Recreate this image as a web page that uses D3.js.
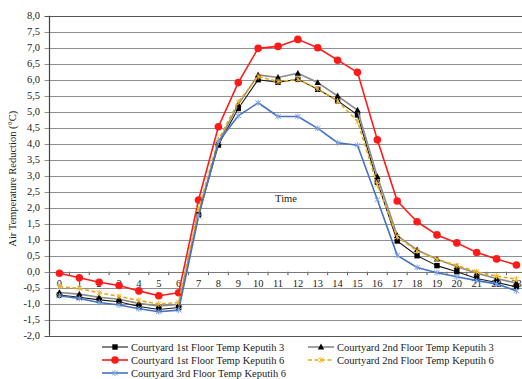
<!DOCTYPE html>
<html>
<head>
<meta charset="utf-8">
<script src="https://cdn.jsdelivr.net/npm/d3@7"></script>
<style>
  html, body { margin: 0; padding: 0; background: #fff; }
  svg { display: block; font-family: 'Liberation Serif', 'Times New Roman', Times, 'DejaVu Serif', serif; }
  svg text { font-family: 'Liberation Serif', 'Times New Roman', Times, 'DejaVu Serif', serif; fill: #222; }
</style>
</head>
<body>
<svg id="chart" width="522" height="379"></svg>
<script>
// Hour of day (category axis)
const hours = d3.range(0, 24).map(String);

// Air temperature reduction (°C) per courtyard / floor
const keputih3Floor1 = [-0.73, -0.80, -0.88, -0.94, -1.09, -1.18, -1.12, 1.78, 3.96, 5.10, 6.00, 5.92, 6.01, 5.70, 5.34, 4.90, 2.80, 0.96, 0.50, 0.19, 0.00, -0.21, -0.34, -0.47];
const keputih3Floor2 = [-0.65, -0.70, -0.80, -0.86, -0.99, -1.07, -1.02, 1.82, 4.03, 5.23, 6.15, 6.07, 6.20, 5.91, 5.49, 5.05, 2.97, 1.13, 0.68, 0.39, 0.16, -0.05, -0.21, -0.36];
const keputih6Floor1 = [-0.05, -0.19, -0.33, -0.43, -0.60, -0.75, -0.66, 2.24, 4.53, 5.91, 6.98, 7.04, 7.26, 7.00, 6.61, 6.23, 4.12, 2.21, 1.56, 1.15, 0.90, 0.60, 0.40, 0.21];
const keputih6Floor2 = [-0.47, -0.52, -0.66, -0.77, -0.90, -1.01, -0.96, 1.95, 4.12, 5.30, 6.10, 5.94, 6.01, 5.72, 5.33, 4.70, 2.72, 1.09, 0.65, 0.39, 0.19, 0.00, -0.14, -0.23];
const keputih6Floor3 = [-0.75, -0.84, -0.96, -1.04, -1.16, -1.25, -1.20, 1.72, 4.06, 4.87, 5.28, 4.85, 4.85, 4.48, 4.03, 3.95, 2.25, 0.51, 0.13, -0.03, -0.16, -0.28, -0.38, -0.60];

const seriesNames = [
  "Courtyard 1st Floor Temp Keputih 3",
  "Courtyard 2nd Floor Temp Keputih 3",
  "Courtyard 1st Floor Temp Keputih 6",
  "Courtyard 2nd Floor Temp Keputih 6",
  "Courtyard 3rd Floor Temp Keputih 6"
];

// Y tick values, every 0.5 from -2 to 8
const yTicks = d3.range(-2, 8.01, 0.5);

const FONT = "'Liberation Serif', 'Times New Roman', 'DejaVu Serif', serif";

const series = [
  { name: seriesNames[0], values: keputih3Floor1, color: "#1a1a1a", width: 1.1, dash: null, marker: "square", markerColor: "#000" },
  { name: seriesNames[1], values: keputih3Floor2, color: "#8a8a8a", width: 1.6, dash: null, marker: "triangle", markerColor: "#000" },
  { name: seriesNames[2], values: keputih6Floor1, color: "#ff1a1a", width: 1.6, dash: null, marker: "circle", markerColor: "#ff1a1a" },
  { name: seriesNames[3], values: keputih6Floor2, color: "#e6a817", width: 1.6, dash: "4,2.5", marker: "star", markerColor: "#f0b830" },
  { name: seriesNames[4], values: keputih6Floor3, color: "#4472c4", width: 1.6, dash: null, marker: "asterisk", markerColor: "#7fa3e0" }
];

const svg = d3.select("#chart");
const plot = { left: 49.5, top: 15.7, bottom: 335.7, right: 49.5 + 24 * 19.87 };

const x = d3.scaleBand().domain(hours).range([plot.left, plot.right]);
const y = d3.scaleLinear().domain([-2, 8]).range([plot.bottom, plot.top]);
const fmt = v => d3.format(".1f")(v).replace(".", ",").replace("−", "-");

// Horizontal grid lines (extend left as tick marks)
svg.append("g").selectAll("line").data(yTicks).join("line")
  .attr("x1", plot.left - 5).attr("x2", 522)
  .attr("y1", d => Math.round(y(d)) + 0.5).attr("y2", d => Math.round(y(d)) + 0.5)
  .attr("stroke", d => (d === -2 || d === 8) ? "#555" : "#8f8f8f")
  .attr("stroke-width", 1);

// Y axis line
svg.append("line")
  .attr("x1", plot.left).attr("x2", plot.left)
  .attr("y1", plot.top).attr("y2", plot.bottom)
  .attr("stroke", "#444").attr("stroke-width", 1.2);

// Y tick labels
svg.append("g").selectAll("text").data(yTicks).join("text")
  .attr("x", 40).attr("y", d => y(d))
  .attr("dy", "0.35em")
  .attr("text-anchor", "end")
  .attr("font-family", FONT)
  .attr("font-size", 10.5)
  .text(fmt);

// Category axis on the zero line: ticks between hours and hour labels
const bounds = hours.map(h => x(h)).concat([plot.right]);
svg.append("g").selectAll("line").data(bounds).join("line")
  .attr("x1", d => d).attr("x2", d => d)
  .attr("y1", y(0)).attr("y2", y(0) + 3.5)
  .attr("stroke", "#555").attr("stroke-width", 1);
svg.append("line")
  .attr("x1", plot.left).attr("x2", 522)
  .attr("y1", Math.round(y(0)) + 0.5).attr("y2", Math.round(y(0)) + 0.5)
  .attr("stroke", "#777");
svg.append("g").selectAll("text").data(hours).join("text")
  .attr("x", d => x(d) + x.bandwidth() / 2)
  .attr("y", y(0) + 15)
  .attr("text-anchor", "middle")
  .attr("font-family", FONT)
  .attr("font-size", 10.5)
  .text(d => d);

// Axis titles
svg.append("text")
  .attr("transform", `translate(16,${(plot.top + plot.bottom) / 2 + 3}) rotate(-90)`)
  .attr("text-anchor", "middle")
  .attr("font-family", FONT)
  .attr("font-size", 10.5)
  .text("Air Temperature Reduction (°C)");
svg.append("text")
  .attr("x", 286).attr("y", 202)
  .attr("text-anchor", "middle")
  .attr("font-family", FONT)
  .attr("font-size", 10.5)
  .text("Time");

// Marker drawing helper
function drawMarker(g, type, color, cx, cy) {
  if (type === "square") {
    g.append("rect").attr("x", cx - 2.7).attr("y", cy - 2.7).attr("width", 5.4).attr("height", 5.4).attr("fill", color);
  } else if (type === "triangle") {
    g.append("path").attr("d", `M${cx},${cy - 3.4}L${cx + 3.2},${cy + 2.4}L${cx - 3.2},${cy + 2.4}Z`).attr("fill", color);
  } else if (type === "circle") {
    g.append("circle").attr("cx", cx).attr("cy", cy).attr("r", 3.8).attr("fill", color);
  } else if (type === "star") {
    g.append("path").attr("d", `M${cx - 2.5},${cy - 2.5}L${cx + 2.5},${cy + 2.5}M${cx - 2.5},${cy + 2.5}L${cx + 2.5},${cy - 2.5}M${cx},${cy - 3}L${cx},${cy + 3}`)
      .attr("stroke", color).attr("stroke-width", 1).attr("fill", "none");
  } else if (type === "asterisk") {
    g.append("path").attr("d", `M${cx - 2.8},${cy - 2.2}L${cx + 2.8},${cy + 2.2}M${cx - 2.8},${cy + 2.2}L${cx + 2.8},${cy - 2.2}M${cx},${cy - 3}L${cx},${cy + 3}`)
      .attr("stroke", color).attr("stroke-width", 1).attr("fill", "none");
  }
}

// Series lines and markers
const line = d3.line()
  .x((d, i) => x(hours[i]) + x.bandwidth() / 2)
  .y(d => y(d));

series.forEach(s => {
  const g = svg.append("g");
  g.append("path")
    .attr("d", line(s.values))
    .attr("fill", "none")
    .attr("stroke", s.color)
    .attr("stroke-width", s.width)
    .attr("stroke-dasharray", s.dash)
    .attr("stroke-linejoin", "round");
  s.values.forEach((v, i) => drawMarker(g, s.marker, s.markerColor, x(hours[i]) + x.bandwidth() / 2, y(v)));
});

// Legend
const legendItems = [
  { s: series[0], x: 102, y: 347 },
  { s: series[1], x: 308, y: 347 },
  { s: series[2], x: 102, y: 360 },
  { s: series[3], x: 308, y: 360 },
  { s: series[4], x: 102, y: 373 }
];
legendItems.forEach(item => {
  const g = svg.append("g");
  g.append("line")
    .attr("x1", item.x).attr("x2", item.x + 26)
    .attr("y1", item.y).attr("y2", item.y)
    .attr("stroke", item.s.color)
    .attr("stroke-width", item.s.width)
    .attr("stroke-dasharray", item.s.dash);
  drawMarker(g, item.s.marker, item.s.markerColor, item.x + 13, item.y);
  g.append("text")
    .attr("x", item.x + 29).attr("y", item.y)
    .attr("dy", "0.35em")
    .attr("font-family", FONT)
    .attr("font-size", 10.5)
    .text(item.s.name);
});
</script>
</body>
</html>
